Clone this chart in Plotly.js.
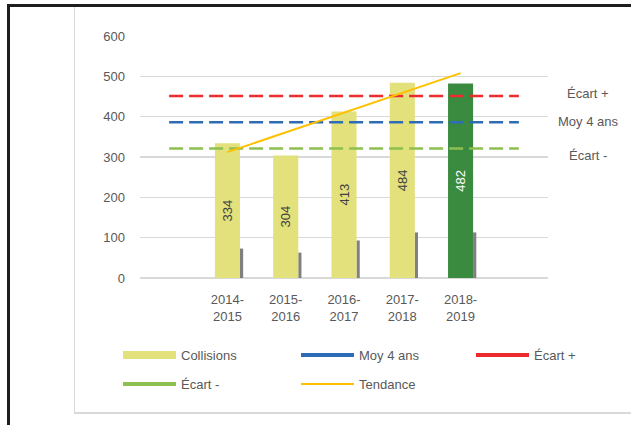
<!DOCTYPE html>
<html>
<head>
<meta charset="utf-8">
<script src="https://cdn.plot.ly/plotly-3.0.1.min.js"></script>
<style>
  body { margin: 0; background: #fff; }
  #wrap { position: relative; width: 631px; height: 425px; overflow: hidden; }
  #cadre { position: absolute; left: 7px; top: 4px; width: 700px; height: 500px;
           border-left: 3px solid #1e1e1e; border-top: 3px solid #1e1e1e; }
  #boite { position: absolute; left: 74px; top: 7px; width: 700px; height: 405px;
           border-left: 1px solid #d9d9d9; border-bottom: 2px solid #d9d9d9; }
  #graphique { position: absolute; left: 0; top: 0; width: 631px; height: 425px; }
</style>
</head>
<body>
<div id="wrap">
  <div id="cadre"></div>
  <div id="boite"></div>
  <div id="graphique"></div>
</div>
<script>
// --- Données ---
const saisons = ["2014-<br>2015", "2015-<br>2016", "2016-<br>2017", "2017-<br>2018", "2018-<br>2019"];
const positions = [1, 2, 3, 4, 5];          // cases 0 et 6 restent vides
const collisions = [334, 304, 413, 484, 482];
const autres = [73, 63, 93, 113, 113];      // petites barres grises
const couleursBarres = ["#e2e17c", "#e2e17c", "#e2e17c", "#e2e17c", "#3a8a40"];
const couleursTexte = ["#404040", "#404040", "#404040", "#404040", "#ffffff"];

const limites = [0, 6];                      // étendue des lignes horizontales
const moy4ans = 386;
const ecartPlus = 451;
const ecartMoins = 321;

const tendanceX = [1, 5];
const tendance = [312, 508];

const police = "'Liberation Sans', Arial, sans-serif";

// --- Traces ---
const traceCollisions = {
  x: positions,
  y: collisions,
  type: "bar",
  name: "Collisions",
  width: 0.43,
  marker: { color: couleursBarres },
  text: collisions.map(String),
  textposition: "inside",
  insidetextanchor: "middle",
  textangle: -90,
  textfont: { color: couleursTexte, size: 13, family: police },
  showlegend: false,
};

const traceAutres = {
  x: positions,
  y: autres,
  type: "bar",
  name: "Autres",
  width: 0.055,
  offset: 0.215,
  marker: { color: "#808080" },
  showlegend: false,
};

function ligne(valeur) {
  return limites.map(() => valeur);
}

function horizontale(nom, valeur, couleur) {
  return {
    x: limites,
    y: ligne(valeur),
    type: "scatter",
    mode: "lines",
    name: nom,
    line: { color: couleur, width: 2.5, dash: "14px,6px" },
    showlegend: false,
  };
}

// entrées de légende seules (traits pleins comme dans l'original)
function entree(nom, couleur, epaisseur, legende) {
  return {
    x: [null],
    y: [null],
    type: "scatter",
    mode: "lines",
    name: nom,
    line: { color: couleur, width: epaisseur },
    legend: legende,
  };
}

const traceTendance = {
  x: tendanceX,
  y: tendance,
  type: "scatter",
  mode: "lines",
  name: "Tendance",
  line: { color: "#ffc000", width: 2 },
  legend: "legend2",
};

const styleLegende = {
  orientation: "h",
  xref: "container",
  yref: "container",
  xanchor: "left",
  yanchor: "middle",
  x: 118 / 631,
  bgcolor: "rgba(0,0,0,0)",
  font: { color: "#595959", size: 13, family: police },
  itemwidth: 53,
  entrywidth: 110,
  entrywidthmode: "pixels",
  traceorder: "normal",
};

const layout = {
  width: 631,
  height: 425,
  paper_bgcolor: "rgba(0,0,0,0)",
  plot_bgcolor: "rgba(0,0,0,0)",
  font: { color: "#595959", family: police, size: 13 },
  barmode: "overlay",
  margin: { t: 36, b: 147, l: 140, r: 83 },
  xaxis: {
    range: [-0.5, 6.5],
    tickvals: positions,
    ticktext: saisons,
    showgrid: false,
    zeroline: false,
    showline: false,
    ticks: "",
    ticklabelstandoff: 12,
    tickfont: { color: "#595959", size: 13 },
    fixedrange: true,
  },
  yaxis: {
    range: [0, 600],
    dtick: 100,
    gridcolor: "#d9d9d9",
    gridwidth: 1.5,
    zeroline: true,
    zerolinecolor: "#d9d9d9",
    zerolinewidth: 2,
    showline: false,
    ticks: "",
    ticklabelstandoff: 14,
    tickfont: { color: "#595959", size: 13 },
    fixedrange: true,
  },
  legend: Object.assign({}, styleLegende, { y: 1 - 355 / 425 }),
  legend2: Object.assign({}, styleLegende, { y: 1 - 384 / 425 }),
  legend3: Object.assign({}, styleLegende, { x: 471 / 631, y: 1 - 355 / 425 }),
  annotations: [
    { text: "Écart +", value: ecartPlus, shift: 3 },
    { text: "Moy 4 ans", value: moy4ans, shift: 1 },
    { text: "Écart -", value: ecartMoins, shift: -7 },
  ].map((a) => ({
    text: a.text,
    xref: "paper",
    yref: "y",
    x: (588 - 140) / 408,
    y: a.value,
    yshift: a.shift,
    xanchor: "center",
    yanchor: "middle",
    showarrow: false,
    font: { color: "#595959", size: 13, family: police },
  })),
};

Plotly.newPlot(
  "graphique",
  [
    traceAutres,
    traceCollisions,
    horizontale("Moy 4 ans", moy4ans, "#2e6db5"),
    horizontale("Écart +", ecartPlus, "#ec2b2e"),
    horizontale("Écart -", ecartMoins, "#8dc04f"),
    entree("Collisions", "#e2e17c", 8, "legend"),
    entree("Moy 4 ans", "#2e6db5", 4, "legend"),
    entree("Écart +", "#ec2b2e", 4, "legend3"),
    entree("Écart -", "#8dc04f", 4, "legend2"),
    traceTendance,
  ],
  layout,
  { displayModeBar: false, staticPlot: true }
);
</script>
</body>
</html>
